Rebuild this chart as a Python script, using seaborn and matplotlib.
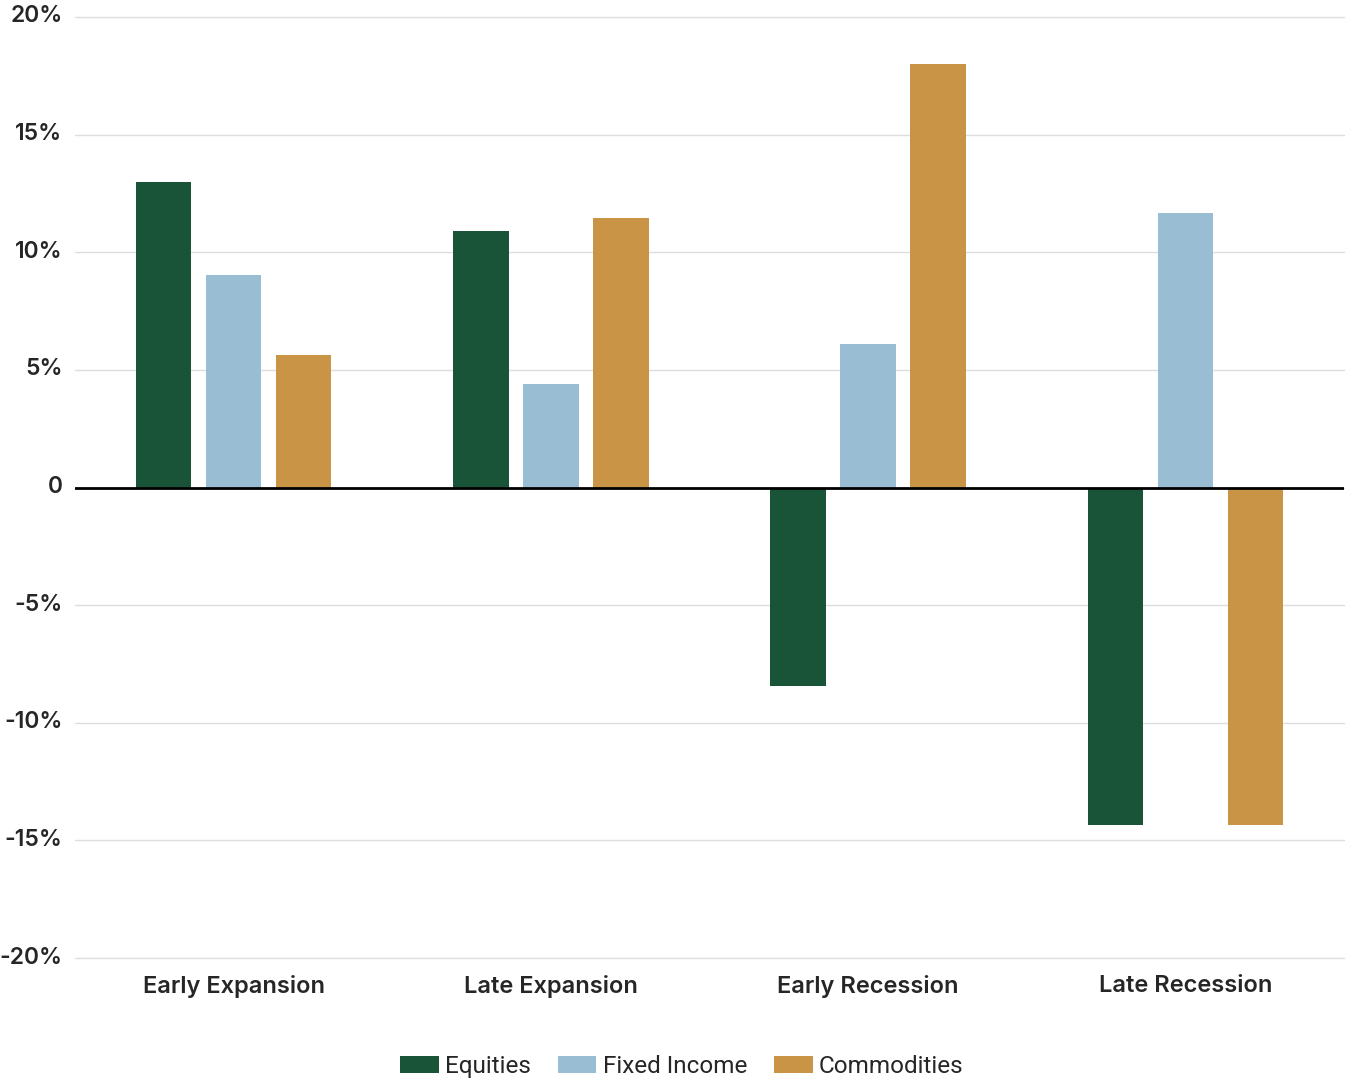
import matplotlib
matplotlib.use("Agg")
import matplotlib.pyplot as plt
import matplotlib.transforms as mtransforms
import seaborn as sns
import pandas as pd
from matplotlib.ticker import FixedLocator, FixedFormatter

phases = ["Early Expansion", "Late Expansion", "Early Recession", "Late Recession"]
series = ["Equities", "Fixed Income", "Commodities"]
equities = [13.0, 10.9, -8.45, -14.35]
fixed_income = [9.05, 4.4, 6.1, 11.65]
commodities = [5.65, 11.45, 18.0, -14.35]
colors = ["#1a5438", "#99bdd3", "#c99445"]
yticks = [20, 15, 10, 5, 0, -5, -10, -15, -20]
ytick_labels = ["20%", "15%", "10%", "5%", "0", "-5%", "-10%", "-15%", "-20%"]

rows = []
for s, vals in zip(series, [equities, fixed_income, commodities]):
    for p, v in zip(phases, vals):
        rows.append({"phase": p, "series": s, "value": v})
df = pd.DataFrame(rows)

sns.set_style("white")
plt.rcParams["font.family"] = ["Inter", "DejaVu Sans"]

fig = plt.figure(figsize=(13.46, 10.82), dpi=100)
ax = fig.add_axes([75/1346, 1-958/1082, 1269/1346, (958-17)/1082])

sns.barplot(data=df, x="phase", y="value", hue="series", order=phases,
            hue_order=series, palette=colors, width=0.662, gap=0.21,
            saturation=1, linewidth=0, edgecolor="none", ax=ax, legend=True)

ax.set_xlim(-0.5, 3.5)
ax.set_ylim(-20, 20)
ax.yaxis.set_major_locator(FixedLocator(yticks))
ax.yaxis.set_major_formatter(FixedFormatter(ytick_labels))
ax.grid(axis="y", color="#dddddd", linewidth=1)
for gl in ax.get_ygridlines():
    gl.set_clip_on(False)
ax.grid(axis="x", visible=False)
ax.set_axisbelow(True)
ax.axhline(0, color="black", linewidth=2, zorder=5)
for sp in ax.spines.values():
    sp.set_visible(False)
ax.tick_params(axis="y", length=0, pad=9, labelsize=16.5)
ax.tick_params(axis="x", length=0, pad=12, labelsize=17)
offset = mtransforms.ScaledTranslation(0, 3/100, fig.dpi_scale_trans)
for lbl in ax.get_yticklabels():
    lbl.set_fontweight("semibold")
    lbl.set_transform(lbl.get_transform() + offset)
for lbl in ax.get_xticklabels():
    lbl.set_fontweight("semibold")
ax.set_xlabel("")
ax.set_ylabel("")

leg = ax.legend(loc="center", bbox_to_anchor=(0.478, -0.115), ncol=3, frameon=False,
                handlelength=1.6, handleheight=0.72, handletextpad=0.25,
                columnspacing=1.1, prop={"family": ["Roboto", "DejaVu Sans"], "size": 17.5})

fig.savefig("out.png", dpi=100)
